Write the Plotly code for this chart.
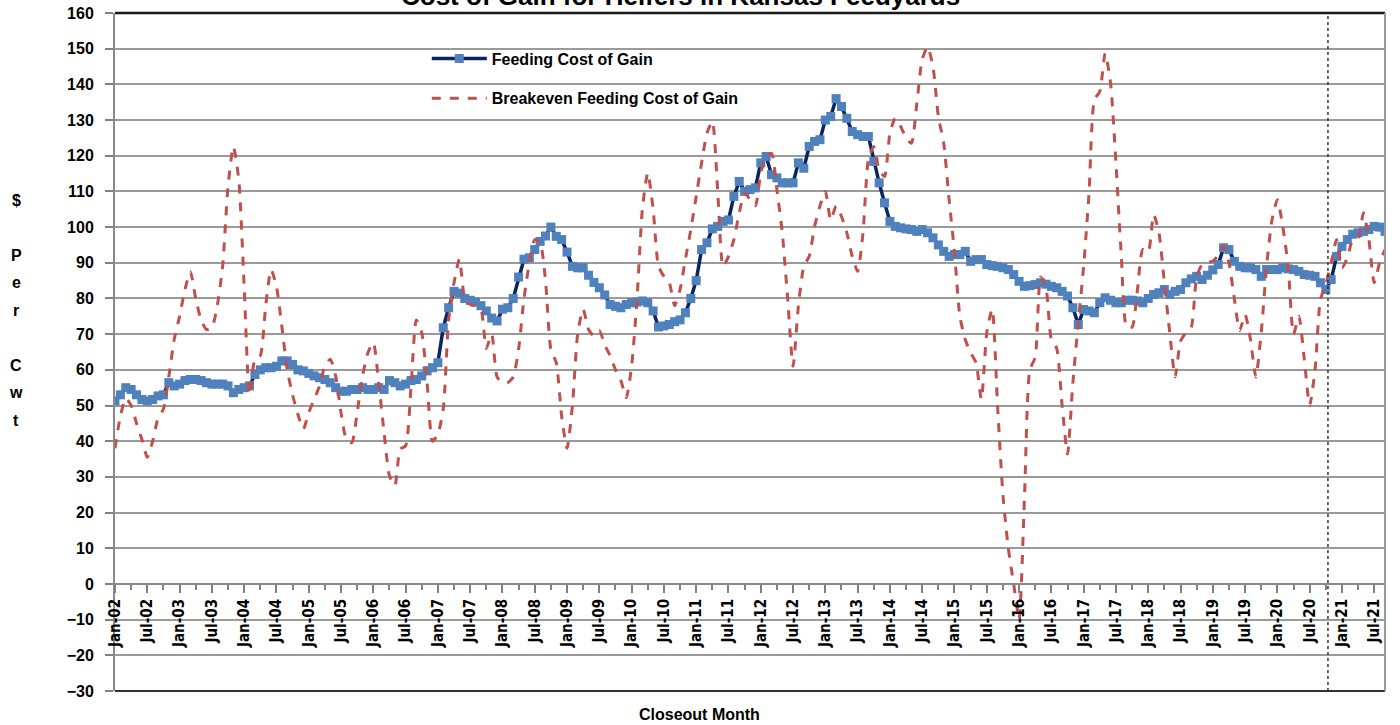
import plotly.graph_objects as go

# ---------------- data ----------------
month_names = ["Jan", "Feb", "Mar", "Apr", "May", "Jun", "Jul", "Aug", "Sep", "Oct", "Nov", "Dec"]
months = [f"{m}-{y:02d}" for y in range(2, 22) for m in month_names][:237]   # Jan-02 .. Sep-21

feeding_cost = [
    51.3, 53, 55, 54.5, 53, 51.7, 51.3, 51.7, 52.7, 53, 56.4, 55.5,          # 2002
    56, 57, 57.3, 57.3, 57, 56.4, 56, 56, 56, 55.5, 53.6, 54.5,              # 2003
    55, 55.5, 58.7, 60, 60.6, 60.6, 61, 62.5, 62.5, 61.5, 60, 59.7,          # 2004
    59, 58.3, 57.8, 57.3, 56.4, 55, 54, 54, 54.5, 54.5, 55, 54.5,            # 2005
    54.5, 55, 54.5, 57, 56.4, 55.5, 56, 57, 57.3, 58.3, 59.7, 60.6,          # 2006
    62, 71.8, 77.4, 82, 81.5, 80, 79.5, 79, 78, 76.5, 74.5, 73.7,            # 2007
    77, 77.4, 80, 86, 91, 91.4, 93.7, 96, 97.5, 100, 97.4, 96.5,             # 2008
    93, 89, 88.6, 88.6, 86.5, 84.5, 83, 81, 78.3, 77.8, 77.4, 78.3,          # 2009
    78.8, 79, 79.3, 78.8, 76.5, 72, 72.3, 72.7, 73.5, 74, 76, 80,            # 2010
    85, 93.7, 95.6, 99.5, 100.2, 101.6, 102, 108.6, 112.8, 110, 110.5, 111,  # 2011
    118, 119.8, 114.7, 113.8, 112.4, 112.4, 112.4, 118, 116.5, 122.6, 124, 124.5,  # 2012
    130, 131, 136, 133.8, 130.5, 126.8, 125.9, 125.4, 125.4, 118.4, 112.4, 106.8,  # 2013
    101.6, 100.2, 99.8, 99.5, 99.3, 98.8, 99.3, 98.4, 97, 95, 93.2, 91.8,    # 2014
    92.3, 92.3, 93.2, 90.4, 90.9, 90.9, 89.5, 89.2, 89, 88.6, 88.1, 86.7,    # 2015
    84.8, 83.4, 83.6, 83.9, 84.4, 84, 83.4, 83, 82, 80.7, 77.4, 72.7,        # 2016
    76.9, 76.5, 76, 78.8, 80.2, 79.5, 78.8, 78.8, 79.5, 79.5, 79.3, 78.8,    # 2017
    80, 81.1, 81.6, 82.5, 81.1, 82, 82.5, 84.4, 85.5, 86.2, 85.3, 86.5,      # 2018
    88, 89.5, 94.2, 93.7, 90.4, 89, 88.6, 88.6, 88.1, 86.2, 88.1, 88.1,      # 2019
    88.1, 88.6, 88.3, 88.1, 87.6, 86.7, 86.5, 86.2, 84.4, 82.5, 85.3, 91.8,  # 2020
    94.6, 96.5, 98, 98.4, 98.8, 99.3, 100.2, 100, 98.8,                      # 2021
]

breakeven_cost = [
    38, 47, 52, 50, 45, 40.5, 35.5, 40, 46.5, 49, 58, 68.5,                  # 2002
    75, 82.5, 87.5, 80, 74, 71.3, 71.8, 78, 89, 111.4, 122.6, 113.3,         # 2003
    83.4, 53, 63, 64, 78, 88.1, 83.4, 72.3, 60, 53, 47.5, 43.4,              # 2004
    48, 51.7, 55.5, 61, 63, 58.3, 48, 40.5, 39.6, 48, 58.3, 64.8,            # 2005
    67.6, 56.4, 42.4, 30.3, 27.5, 37.8, 38.7, 55, 74, 70.4, 56.4, 40,        # 2006
    42, 49, 74, 84.4, 91, 80, 78.3, 78, 77, 66, 70, 58,                      # 2007
    56.4, 56.4, 58, 65.7, 80, 90, 96.5, 95.6, 85, 65.7, 62, 47,              # 2008
    38, 50, 70.4, 77, 71.3, 69.5, 71, 67, 64, 60, 57, 52.2,                  # 2009
    61, 79.7, 105, 115.2, 105, 89, 86.2, 84.4, 78, 82.5, 91, 99.3,           # 2010
    108.6, 118, 126.3, 129.6, 110, 89, 91.8, 96.5, 104, 109.6, 107.7, 106,   # 2011
    115.2, 119.8, 120.7, 110.5, 98.4, 80, 61, 78, 89, 91.8, 100.2, 105.9,    # 2012
    110, 102, 105.9, 103, 98.4, 91.8, 87.6, 98.4, 118.9, 122.6, 116, 114.2,  # 2013
    126.3, 130.5, 128.2, 125, 123.5, 134.7, 147, 150.5, 145, 131, 123.5, 107.7,  # 2014
    93, 75, 68.5, 64.8, 62, 51.7, 70.4, 77, 50, 25, 10, 0,                   # 2015
    -9.8, 24, 60, 63.5, 86, 83, 68.5, 66, 50, 36.4, 56.4, 73.2,              # 2016
    89, 109.6, 135.7, 138, 148.7, 140.4, 118, 92, 72, 72, 82.5, 93.7,        # 2017
    93, 103.5, 98.4, 84.4, 70.4, 58, 68, 70.4, 72, 86, 89.5, 90,             # 2018
    90.5, 92, 94.6, 90, 80, 71, 75.5, 68.5, 58, 70.4, 89, 102,               # 2019
    107.7, 100.2, 89, 70, 75, 63, 50, 60, 79.7, 84, 90, 96.5,                # 2020
    88.6, 91.4, 96.5, 97, 104, 96.5, 84.4, 90, 93.7,                         # 2021
]

tick_labels = months[::6]          # Jan / Jul labels
minor_ticks = months[3::6]         # quarter ticks between labels
y_ticks = list(range(-30, 161, 10))
divider_after = "Oct-20"           # dotted divider between actual and projected
divider_offset = 0.4

series_names = ["Feeding Cost of Gain", "Breakeven Feeding Cost of Gain"]
title_text = "Cost of Gain for Heifers in Kansas Feedyards"
x_title = "Closeout Month"
y_title_chars = ["$", "", "P", "e", "r", "", "C", "w", "t"]

# ---------------- figure ----------------
FONT = "Liberation Sans Narrow, DejaVu Sans Condensed, Arial"
BOLD = dict(family="Liberation Sans, Arial", color="black", weight="bold")

fig = go.Figure()

fig.add_trace(go.Scatter(
    x=months, y=feeding_cost, name=series_names[0], mode="lines+markers",
    line=dict(color="#0B2561", width=3.5),
    marker=dict(symbol="square", size=9, color="#4F81BD", line=dict(width=0)),
    legendgroup="a",
))
fig.add_trace(go.Scatter(
    x=months, y=breakeven_cost, name=series_names[1], mode="lines",
    line=dict(color="#C0504D", width=3, dash="dash", shape="spline", smoothing=0.6),
    legendgroup="b",
))

div_x = months.index(divider_after) + divider_offset
zero_pos = (0 - y_ticks[0]) / (y_ticks[-1] - y_ticks[0])

fig.update_layout(
    width=1400, height=725,
    margin=dict(l=115, r=15, t=13, b=34, autoexpand=False),
    paper_bgcolor="white", plot_bgcolor="white",
    showlegend=True,
    legend=dict(
        x=0.2455, y=0.958, xanchor="left", yanchor="top",
        bgcolor="rgba(0,0,0,0)", font=dict(size=16, **BOLD),
        traceorder="grouped", tracegroupgap=16, itemwidth=55,
    ),
    xaxis=dict(
        type="category", categoryorder="array", categoryarray=months,
        range=[0, len(months) - 1], automargin=False,
        anchor="free", position=zero_pos,
        tickmode="array", tickvals=tick_labels, ticktext=tick_labels,
        tickangle=-90, tickfont=dict(family=FONT, size=15, color="black", weight="bold"),
        ticks="outside", ticklen=8, tickwidth=1.5, tickcolor="#808080",
        minor=dict(tickmode="array", tickvals=minor_ticks, ticks="outside",
                   ticklen=5, tickwidth=1.5, tickcolor="#808080", showgrid=False),
        showline=True, linecolor="#8a8a8a", linewidth=2,
        showgrid=False, zeroline=False, ticklabeloverflow="allow",
    ),
    yaxis=dict(
        range=[y_ticks[0], y_ticks[-1]], tickvals=y_ticks, automargin=False,
        tickfont=dict(size=16, **BOLD),
        ticks="outside", ticklen=8, tickwidth=1.5, tickcolor="#808080",
        ticklabelstandoff=8, ticklabeloverflow="allow",
        showgrid=True, gridcolor="#9a9a9a", gridwidth=2,
        showline=True, linecolor="#8a8a8a", linewidth=2,
        zeroline=False,
    ),
)

# frame lines
fig.add_shape(type="line", xref="paper", yref="paper", x0=0, x1=1, y0=1, y1=1,
              line=dict(color="#1a1a1a", width=2.5))
fig.add_shape(type="line", xref="paper", yref="paper", x0=0, x1=1, y0=0, y1=0,
              line=dict(color="#333333", width=2))
fig.add_shape(type="line", xref="paper", yref="paper", x0=1, x1=1, y0=0, y1=1,
              line=dict(color="#9a9a9a", width=2))
# dotted divider
fig.add_shape(type="line", xref="x", yref="paper", x0=div_x, x1=div_x, y0=0, y1=1,
              line=dict(color="#333333", width=1.5, dash="dot"))

# title (cropped at the top edge as in the reference)
fig.add_annotation(text=title_text, xref="paper", yref="paper", x=0.445, y=1,
                   xanchor="center", yanchor="bottom", yshift=0, showarrow=False,
                   font=dict(size=26, **BOLD))
# x title
fig.add_annotation(text=x_title, xref="paper", yref="paper", x=0.46, y=0,
                   xanchor="center", yanchor="top", yshift=-13, showarrow=False,
                   font=dict(size=16, **BOLD))
# stacked y title
for k, ch in enumerate(y_title_chars):
    if ch:
        fig.add_annotation(text=ch, xref="paper", yref="paper", x=0, y=1,
                           xanchor="center", yanchor="middle",
                           xshift=-99, yshift=-(187 + 27.5 * k),
                           showarrow=False, font=dict(size=16, **BOLD))

# place the figure flush with the page corner, as the reference image is
fig.write_html("out.html", config={"displayModeBar": False},
               post_script="document.body.style.margin='0px';")
